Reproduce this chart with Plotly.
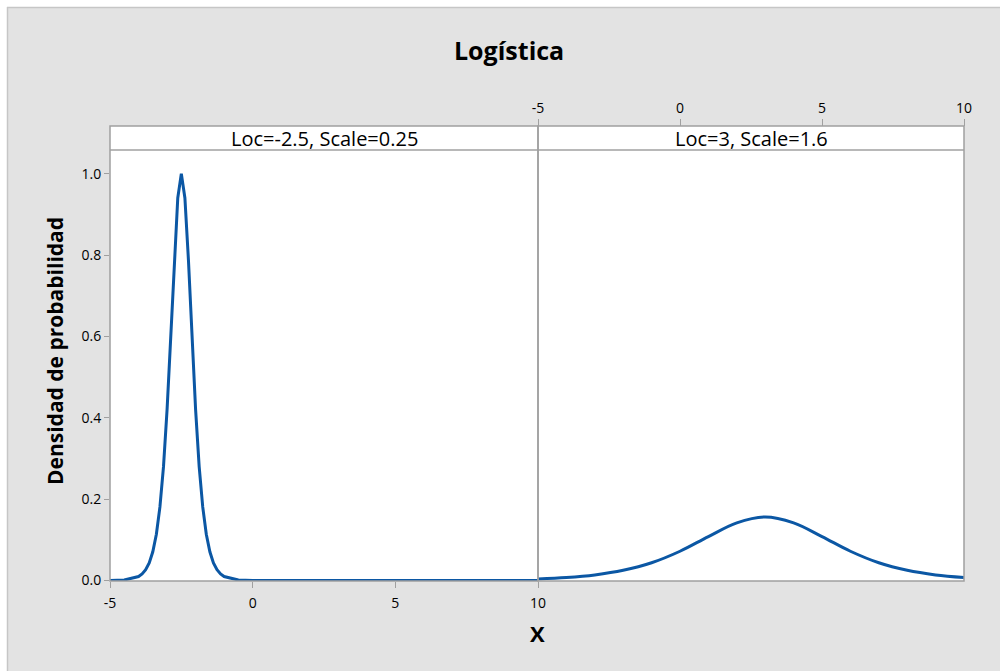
import plotly.graph_objects as go

# ---- data ----
title_text = "Logística"
panel_labels = ["Loc=-2.5, Scale=0.25", "Loc=3, Scale=1.6"]

left_x = [-5, -4.5, -4.0, -3.875, -3.75, -3.625, -3.5, -3.375, -3.25, -3.125, -3.0, -2.875,
          -2.75, -2.625, -2.5, -2.375, -2.25, -2.125, -2.0, -1.875, -1.75, -1.625, -1.5,
          -1.375, -1.25, -1.125, -1.0, -0.5, 0, 10]
left_y = [0.0002, 0.0013, 0.0099, 0.0162, 0.0266, 0.0435, 0.0707, 0.114, 0.181, 0.280, 0.420, 0.596,
          0.786, 0.940, 1.0, 0.940, 0.786, 0.596, 0.420, 0.280, 0.181, 0.114, 0.0707,
          0.0435, 0.0266, 0.0162, 0.0099, 0.0013, 0.0002, 0.0]

right_x = [-5, -4, -3, -2, -1, 0, 1, 2, 3, 4, 5, 6, 7, 8, 9, 10]
right_y = [0.0042, 0.0077, 0.0140, 0.0252, 0.0438, 0.0721, 0.1082, 0.1419, 0.1563,
           0.1419, 0.1082, 0.0721, 0.0438, 0.0252, 0.0140, 0.0077]

x_ticks = [-5, 0, 5, 10]
x_ticktext = ["-5", "0", "5", "10"]
y_ticks = [0.0, 0.2, 0.4, 0.6, 0.8, 1.0]
y_ticktext = ["0.0", "0.2", "0.4", "0.6", "0.8", "1.0"]

# ---- layout constants ----
W, H = 1000, 671
ML, MR, MT, MB = 110, 36, 126, 90
PW = W - ML - MR          # 854
PH = H - MT - MB          # 455
split = (538 - ML) / PW
ytop = (581 - 150) / PH   # top of data area (below strip)

def px_x(p):
    return (p - ML) / PW

def px_y(p):
    return (H - MB - p) / PH

LINE = "#0b57a4"
GRID = "#a0a0a0"
FONT = "Open Sans"
TXT = "#000000"

fig = go.Figure()
fig.add_trace(go.Scatter(x=left_x, y=left_y, mode="lines",
                         line=dict(color=LINE, width=3), xaxis="x", yaxis="y",
                         showlegend=False, hoverinfo="skip"))
fig.add_trace(go.Scatter(x=right_x, y=right_y, mode="lines",
                         line=dict(color=LINE, width=3, shape="spline", smoothing=1.0),
                         xaxis="x2", yaxis="y2", showlegend=False, hoverinfo="skip"))

tickfont = dict(family=FONT, size=14, color=TXT)

fig.update_layout(
    width=W, height=H,
    margin=dict(l=ML, r=MR, t=MT, b=MB),
    paper_bgcolor="#e3e3e3",
    plot_bgcolor="white",
    xaxis=dict(domain=[0, split], range=[-5, 10], tickvals=x_ticks, ticktext=x_ticktext,
               ticks="outside", ticklen=6, tickcolor=GRID, tickfont=tickfont,
               ticklabelstandoff=3, showgrid=False,
               zeroline=False, showline=False, anchor="y"),
    xaxis2=dict(domain=[split, 1], range=[-5, 10], tickvals=x_ticks, ticktext=x_ticktext,
                ticks="outside", ticklen=7, tickcolor=GRID, tickfont=tickfont,
                showgrid=False, zeroline=False, showline=False, side="top",
                anchor="free", position=1),
    yaxis=dict(domain=[0, ytop], range=[-0.001, 1.058], tickvals=y_ticks,
               ticktext=y_ticktext, ticks="outside", ticklen=5, tickcolor=GRID,
               tickfont=tickfont, showgrid=False, zeroline=False, showline=False,
               anchor="x"),
    yaxis2=dict(domain=[0, ytop], range=[-0.001, 1.058], matches="y",
                showticklabels=False, ticks="", showgrid=False, zeroline=False,
                showline=False, anchor="x2"),
)

shapes = []
# outer white margin band and light border
shapes.append(dict(type="rect", xref="paper", yref="paper", x0=px_x(-2), x1=px_x(1002),
                   y0=px_y(7), y1=px_y(-2), fillcolor="white", line=dict(width=0), layer="below"))
shapes.append(dict(type="rect", xref="paper", yref="paper", x0=px_x(-2), x1=px_x(7),
                   y0=px_y(673), y1=px_y(-2), fillcolor="white", line=dict(width=0), layer="below"))
shapes.append(dict(type="line", xref="paper", yref="paper", x0=px_x(7), x1=px_x(1002),
                   y0=px_y(7.5), y1=px_y(7.5), line=dict(color="#c6c6c6", width=1.5)))
shapes.append(dict(type="line", xref="paper", yref="paper", x0=px_x(7.5), x1=px_x(7.5),
                   y0=px_y(673), y1=px_y(7), line=dict(color="#c6c6c6", width=1.5)))
for x0, x1 in [(0, split), (split, 1)]:
    # strip background
    shapes.append(dict(type="rect", xref="paper", yref="paper", x0=x0, x1=x1,
                       y0=ytop, y1=1, fillcolor="white", line=dict(width=0), layer="below"))
    # panel frame (including strip)
    shapes.append(dict(type="rect", xref="paper", yref="paper", x0=x0, x1=x1,
                       y0=0, y1=1, line=dict(color=GRID, width=1.5), layer="above"))
    # strip separator
    shapes.append(dict(type="line", xref="paper", yref="paper", x0=x0, x1=x1,
                       y0=ytop, y1=ytop, line=dict(color=GRID, width=1.5), layer="above"))

annotations = []
for (x0, x1), lab in zip([(0, split), (split, 1)], panel_labels):
    annotations.append(dict(text=lab, xref="paper", yref="paper", x=(x0 + x1) / 2,
                            y=(ytop + 1) / 2, xanchor="center", yanchor="middle",
                            showarrow=False, font=dict(family=FONT, size=20, color=TXT)))
annotations.append(dict(text="<b>" + title_text + "</b>", xref="paper", yref="paper",
                        x=px_x(509), y=px_y(50), xanchor="center", yanchor="middle",
                        showarrow=False, font=dict(family=FONT, size=25, color=TXT)))
annotations.append(dict(text="<b>Densidad de probabilidad</b>", xref="paper", yref="paper",
                        x=px_x(55), y=px_y(351), xanchor="center", yanchor="middle",
                        textangle=-90, showarrow=False,
                        font=dict(family=FONT, size=21, color=TXT)))
annotations.append(dict(text="<b>X</b>", xref="paper", yref="paper",
                        x=px_x(537), y=px_y(633), xanchor="center", yanchor="middle",
                        showarrow=False, font=dict(family=FONT, size=22, color=TXT)))

fig.update_layout(shapes=shapes, annotations=annotations)
fig.write_html("out.html", config={"displayModeBar": False},
               post_script="document.body.style.margin='0';")
